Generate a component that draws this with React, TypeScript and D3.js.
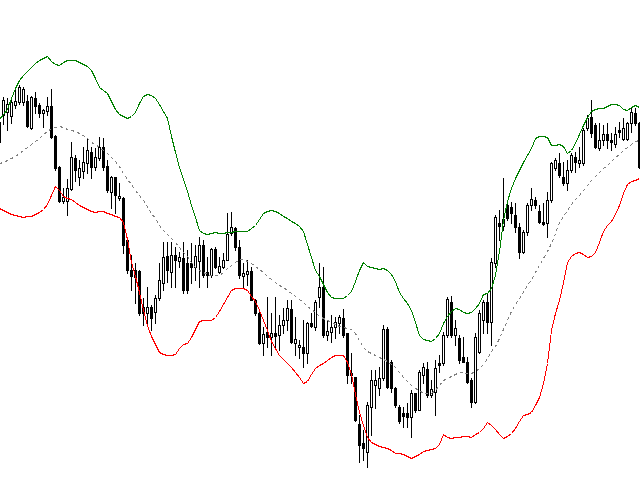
import React from "react";
import * as d3 from "d3";

// Price units are arbitrary (chart has no axes); one value per bar, bar index -1..159
const opens = [
  378,385,388,384,395,398,398,399,372,402,
  395,387,389,394,364,333,299,299,311,342,
  323,329,337,348,333,342,353,334,308,323,
  302,302,260,230,230,229,193,187,193,188,
  202,217,244,228,245,239,242,237,237,233,
  239,255,228,225,251,228,233,240,267,272,
  253,224,226,229,200,187,157,168,163,167,
  165,175,180,191,157,153,153,147,177,173,
  203,213,165,168,173,177,182,167,127,123,
  76,57,48,93,115,112,122,171,138,112,
  93,87,87,83,107,90,125,131,105,108,
  137,137,165,198,165,162,143,138,120,98,
  148,180,198,178,237,277,274,295,293,285,
  273,248,268,295,300,289,278,277,300,332,
  337,323,317,330,343,337,337,372,383,375,
  352,360,366,360,356,370,361,361,377,387,
  377,
];

const closes = [
  358,400,396,398,399,413,411,374,403,394,
  387,390,394,363,332,299,303,312,343,330,
  332,338,350,333,343,353,333,310,323,305,
  304,255,230,224,223,187,187,193,182,202,
  220,243,230,245,240,243,210,210,233,244,
  255,225,225,251,233,234,240,266,273,253,
  225,227,229,200,187,157,166,163,167,164,
  175,180,192,158,161,155,147,177,174,198,
  213,165,169,173,178,183,165,125,125,80,
  55,52,95,120,120,122,171,113,112,95,
  79,84,83,107,90,128,133,105,111,132,
  135,165,201,165,172,140,138,118,98,163,
  187,198,178,238,283,274,281,282,287,273,
  248,268,295,301,295,278,276,300,337,340,
  325,317,330,345,338,340,370,382,367,353,
  360,366,360,358,366,368,372,377,388,377,
  333,
];

const highs = [
  385,403,402,403,410,415,413,405,404,408,
  397,391,403,411,365,334,312,321,358,345,
  340,353,362,353,352,363,362,340,324,323,
  317,303,262,245,237,230,202,213,195,205,
  237,258,258,258,253,248,258,250,257,255,
  263,260,243,252,253,243,247,287,288,273,
  260,237,240,233,201,188,173,203,187,203,
  185,192,200,200,183,160,180,178,187,200,
  237,233,180,185,183,185,191,167,147,123,
  85,70,98,130,130,133,175,173,140,113,
  95,93,97,110,107,130,137,138,120,140,
  145,168,203,204,180,165,163,143,122,167,
  190,200,207,242,285,290,322,300,298,297,
  277,270,297,312,303,295,297,308,338,342,
  347,338,340,347,348,353,372,385,400,377,
  377,375,377,367,373,378,382,378,392,392,
  378,
];

const lows = [
  347,376,370,377,392,396,395,373,371,387,
  383,373,385,362,330,298,297,285,310,319,
  315,322,327,322,330,340,330,308,292,287,
  300,247,227,210,197,185,175,177,170,177,
  200,210,218,213,213,233,207,207,217,220,
  213,223,213,223,232,227,232,240,265,250,
  222,213,215,200,185,156,145,153,145,153,
  150,167,170,157,145,142,133,137,173,170,
  193,163,160,158,162,167,163,117,117,79,
  38,40,33,65,92,105,120,112,108,93,
  77,73,73,63,88,90,117,103,103,85,
  128,135,163,163,155,137,138,117,93,97,
  147,167,167,155,233,260,270,280,277,268,
  242,247,265,290,292,277,275,263,298,330,
  323,315,310,328,328,333,335,370,363,352,
  350,355,352,350,353,363,360,360,368,375,
  332,
];

const upperBand = [
  381,386,391,402,412,420,425,429,433,437,
  440,442,444,439,436,435,438,440,440,440,
  438,436,434,430,422,413,410,407,399,391,
  386,384,382,384,388,397,404,406,405,402,
  396,389,382,364,348,333,321,309,295,283,
  270,267,266,267,268,267,267,268,268,269,
  269,269,269,272,275,281,287,289,290,289,
  287,284,282,279,277,274,269,256,243,230,
  224,216,208,203,202,202,202,205,209,219,
  230,238,234,233,232,231,232,230,226,219,
  208,202,197,190,178,165,161,160,159,162,
  167,177,184,189,192,191,188,187,188,192,
  197,206,207,212,225,249,280,299,312,322,
  330,338,345,352,362,364,364,363,355,355,
  356,354,347,350,357,366,375,383,389,391,
  392,392,394,396,396,395,391,390,393,395,
  393,
];

const middleBand = [
  337,338,340,342,344,347,350,353,356,359,
  362,366,369,372,373,374,373,371,370,369,
  367,365,362,358,356,353,350,347,343,339,
  334,327,321,316,310,305,300,294,287,282,
  275,270,266,262,258,253,248,244,238,233,
  230,228,226,225,225,225,228,232,235,238,
  241,241,239,237,234,231,228,224,221,218,
  215,213,210,207,204,201,198,194,191,188,
  184,182,180,178,176,174,173,172,171,167,
  160,153,149,147,145,143,141,139,136,133,
  128,123,119,115,112,110,107,107,107,110,
  115,120,122,124,126,128,128,127,127,129,
  132,136,142,149,154,162,171,180,189,196,
  202,208,215,221,228,235,242,249,257,267,
  278,284,290,296,301,305,310,315,320,324,
  328,332,335,339,343,346,350,353,356,359,
  360,
];

const lowerBand = [
  292,290,288,286,285,284,283,284,284,286,
  288,291,296,305,314,310,304,302,301,298,
  295,293,291,289,288,289,289,287,286,284,
  283,278,261,238,224,208,190,175,164,156,
  148,146,145,145,146,152,156,157,163,171,
  179,180,180,180,183,189,196,203,210,212,
  212,212,210,204,199,190,180,170,159,152,
  145,141,137,133,128,123,117,119,126,132,
  135,137,140,143,145,145,145,138,126,106,
  88,75,63,58,56,54,53,52,50,47,
  47,46,44,42,44,46,49,50,51,52,
  56,66,63,62,63,63,64,64,63,66,
  68,72,78,75,71,66,62,64,67,72,
  79,85,86,88,95,103,117,137,170,187,
  200,218,238,244,247,248,246,243,244,248,
  258,269,275,279,286,295,307,316,319,320,
  322,
];

const W = 640;
const H = 480;

export default function App() {
  const n = closes.length;
  const x = d3.scaleLinear().domain([0, n - 1]).range([-1, 639]);
  const y = d3.scaleLinear().domain([20, 500]).range([H, 0]);

  const bandLine = d3
    .line<number>()
    .x((_, i) => Math.round(x(i)) + 0.5)
    .y((d) => Math.round(y(d)) + 0.5);

  const candles = d3.range(n).map((i) => {
    const xc = Math.round(x(i));
    const o = opens[i];
    const c = closes[i];
    const yh = Math.round(y(highs[i]));
    const yl = Math.round(y(lows[i]));
    const yo = Math.round(y(o));
    const yc = Math.round(y(c));
    const top = Math.min(yo, yc);
    const bot = Math.max(yo, yc);
    const bull = c >= o;
    return (
      <g key={i}>
        <rect x={xc} y={yh} width={1} height={yl - yh + 1} fill="#000" />
        {bull ? (
          <rect
            x={xc - 0.5}
            y={top + 0.5}
            width={2}
            height={Math.max(bot - top, 0)}
            fill="#fff"
            stroke="#000"
            strokeWidth={1}
          />
        ) : (
          <rect x={xc - 1} y={top} width={3} height={bot - top + 1} fill="#000" />
        )}
      </g>
    );
  });

  return (
    <svg
      width={W}
      height={H}
      shapeRendering="crispEdges"
      style={{ position: "absolute", left: 0, top: 0, display: "block", background: "#fff" }}
    >
      <rect x={0} y={0} width={W} height={H} fill="#fff" />
      {candles}
      <path d={bandLine(middleBand) || ""} fill="none" stroke="#808080" strokeWidth={1} strokeDasharray="3,3" />
      <path d={bandLine(upperBand) || ""} fill="none" stroke="#008000" strokeWidth={1} />
      <path d={bandLine(lowerBand) || ""} fill="none" stroke="#ff0000" strokeWidth={1} />
    </svg>
  );
}
